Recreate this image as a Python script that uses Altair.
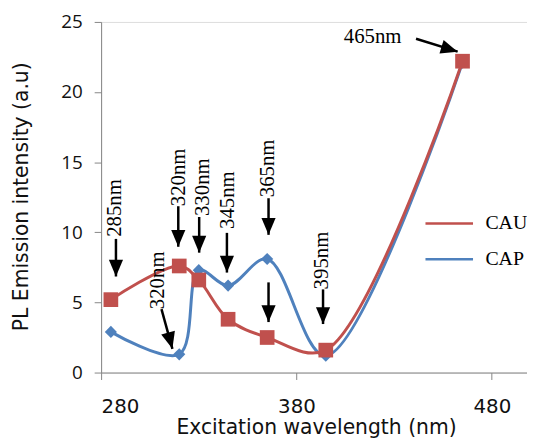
import altair as alt
import pandas as pd

# ---- data ----
wavelengths = [285, 320, 330, 345, 365, 395, 465]
cau = [5.2, 7.6, 6.6, 3.8, 2.5, 1.6, 22.2]
cap = [2.9, 1.3, 7.3, 6.2, 8.1, 1.2, 22.1]
series_names = ["CAU", "CAP"]
series_colors = ["#C0504D", "#4F81BD"]

# annotation labels (data coordinates of text anchor)
ann_labels = ["285nm", "320nm", "330nm", "345nm", "365nm", "320nm", "395nm", "465nm"]
ann_x = [287.1, 320.0, 332.2, 344.9, 365.7, 308.9, 393.1, 404.2]
ann_y = [9.68, 11.86, 11.16, 10.24, 12.5, 4.52, 5.93, 23.94]
ann_angle = [270, 270, 270, 270, 270, 270, 270, 0]

# arrows: start (x, y) -> tip (x2, y2), head rotation
arr_x = [287.6, 319.5, 330.2, 344.4, 365.7, 365.7, 310.9, 393.6, 441.2]
arr_y = [9.53, 11.86, 11.09, 9.96, 12.43, 6.43, 4.52, 5.93, 23.8]
arr_x2 = [287.6, 319.5, 330.2, 344.4, 365.7, 365.7, 316.5, 393.6, 462.5]
arr_y2 = [6.85, 8.97, 8.55, 7.13, 9.82, 3.60, 1.69, 3.46, 22.88]
arr_angle = [0, 0, 0, 0, 0, 0, 345, 0, 287]

x_ticks = [280, 380, 480]
y_ticks = [0, 5, 10, 15, 20, 25]

# ---- tables ----
rows = []
for name, vals in [("CAP", cap), ("CAU", cau)]:
    for i, (w, v) in enumerate(zip(wavelengths, vals)):
        rows.append({"series": name, "wl": w, "val": v, "ord": i})
df = pd.DataFrame(rows)
ann = pd.DataFrame({"label": ann_labels, "x": ann_x, "y": ann_y, "angle": ann_angle})
arr = pd.DataFrame({"x": arr_x, "y": arr_y, "x2": arr_x2, "y2": arr_y2, "angle": arr_angle})

xscale = alt.Scale(domain=[280, 498], nice=False, zero=False)
yscale = alt.Scale(domain=[0, 25], nice=False)
cscale = alt.Scale(domain=series_names, range=series_colors)

xaxis = alt.Axis(values=x_ticks, title="Excitation wavelength (nm)", grid=False,
                 domainColor="#868686", tickColor="#868686", tickSize=7,
                 labelFont="DejaVu Sans", labelFontSize=20, labelColor="#111",
                 labelPadding=17, titleFont="DejaVu Sans", titleFontSize=20.5,
                 titleFontWeight="normal", titleColor="#111",
                 titleX=217, titleY=62, titleBaseline="alphabetic", titleAlign="center")
yaxis = alt.Axis(values=y_ticks, title="PL Emission intensity (a.u)", grid=False,
                 domainColor="#868686", tickColor="#868686", tickSize=7,
                 labelFont="Open Sans", labelFontSize=19, labelColor="#111",
                 labelPadding=12, titleFont="DejaVu Sans", titleFontSize=20.5,
                 titleFontWeight="normal", titleColor="#111",
                 titleX=-74, titleY=176, titleBaseline="alphabetic", titleAlign="center")

base = alt.Chart(df)

lines = base.mark_line(interpolate="catmull-rom", strokeWidth=3).encode(
    x=alt.X("wl:Q", scale=xscale, axis=xaxis),
    y=alt.Y("val:Q", scale=yscale, axis=yaxis),
    color=alt.Color("series:N", scale=cscale, sort=series_names,
                    legend=alt.Legend(orient="none", legendX=326, legendY=178,
                                      symbolType="stroke", symbolSize=2304,
                                      symbolStrokeWidth=2.5, title=None,
                                      labelFont="Liberation Serif", labelFontSize=20,
                                      labelColor="#000", rowPadding=-16,
                                      labelOffset=11, padding=0)),
    detail="series:N",
    order="ord:Q",
)

pts_cap = alt.Chart(df[df.series == "CAP"]).mark_point(
    shape="diamond", filled=True, size=150, opacity=1, color=series_colors[1]
).encode(x=alt.X("wl:Q", scale=xscale), y=alt.Y("val:Q", scale=yscale))

pts_cau = alt.Chart(df[df.series == "CAU"]).mark_point(
    shape="square", filled=True, size=220, opacity=1, color=series_colors[0]
).encode(x=alt.X("wl:Q", scale=xscale), y=alt.Y("val:Q", scale=yscale))

shafts = alt.Chart(arr).mark_rule(color="black", strokeWidth=2.5).encode(
    x=alt.X("x:Q", scale=xscale), y=alt.Y("y:Q", scale=yscale),
    x2="x2:Q", y2="y2:Q")

heads = alt.Chart(arr).mark_point(
    shape="M0,0L-0.42,-1L0.42,-1Z", filled=True, color="black", size=1156,
    opacity=1, strokeWidth=0
).encode(x=alt.X("x2:Q", scale=xscale), y=alt.Y("y2:Q", scale=yscale),
         angle=alt.Angle("angle:Q", scale=None))

texts = alt.Chart(ann).mark_text(
    align="left", baseline="middle", font="Liberation Serif", fontSize=21,
    color="black"
).encode(x=alt.X("x:Q", scale=xscale), y=alt.Y("y:Q", scale=yscale),
         text="label:N", angle=alt.Angle("angle:Q", scale=None))

cap_line = lines.transform_filter(alt.datum.series == "CAP")
cau_line = lines.transform_filter(alt.datum.series == "CAU")

chart = alt.layer(cap_line, cau_line, pts_cap, pts_cau, shafts, heads, texts).properties(
    width=430, height=354,
    autosize=alt.AutoSizeParams(type="none"),
    padding={"left": 94, "top": 12, "right": 0, "bottom": 64},
).configure_view(stroke=None).configure(background="white")

chart.save("out.html", embed_options={"renderer": "svg", "actions": False})
